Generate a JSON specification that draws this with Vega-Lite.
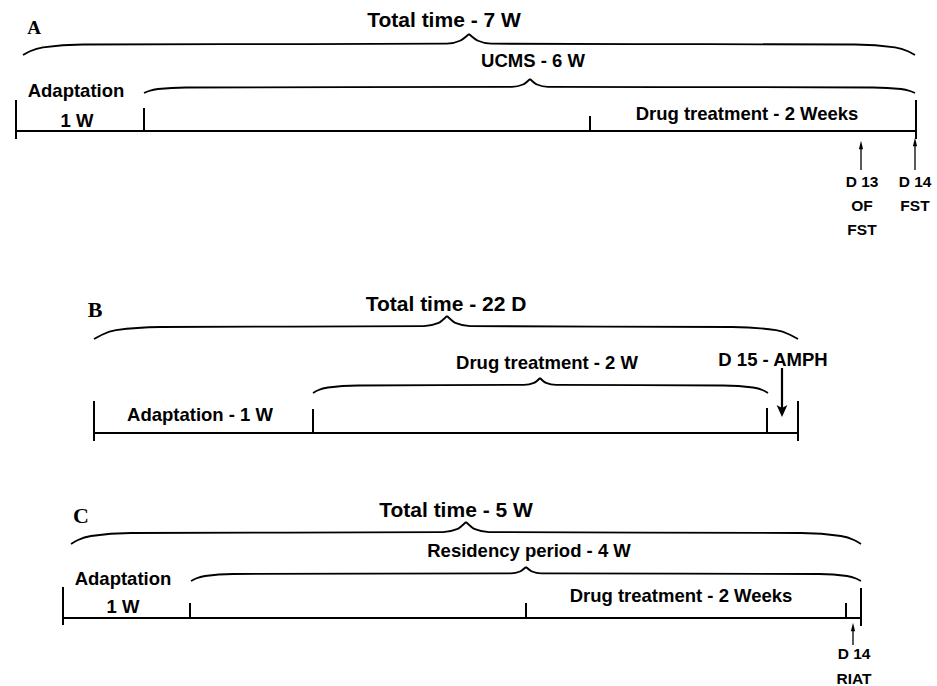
{
  "$schema": "https://vega.github.io/schema/vega-lite/v6.json",
  "width": 937,
  "height": 686,
  "autosize": "none",
  "padding": 0,
  "background": "white",
  "config": {"view": {"stroke": null}},
  "datasets": {
    "rules": [
      {"x": 16, "x2": 916, "y": 131, "y2": 131},
      {"x": 16, "x2": 16, "y": 101, "y2": 138},
      {"x": 144, "x2": 144, "y": 109, "y2": 131},
      {"x": 590, "x2": 590, "y": 117, "y2": 131},
      {"x": 916, "x2": 916, "y": 101, "y2": 138},
      {"x": 94, "x2": 798, "y": 433, "y2": 433},
      {"x": 94, "x2": 94, "y": 402, "y2": 440},
      {"x": 313, "x2": 313, "y": 410, "y2": 433},
      {"x": 767, "x2": 767, "y": 409, "y2": 433},
      {"x": 798, "x2": 798, "y": 402, "y2": 440},
      {"x": 63, "x2": 861, "y": 618, "y2": 618},
      {"x": 63, "x2": 63, "y": 588, "y2": 624},
      {"x": 190, "x2": 190, "y": 604, "y2": 618},
      {"x": 526, "x2": 526, "y": 604, "y2": 618},
      {"x": 846, "x2": 846, "y": 604, "y2": 618},
      {"x": 861, "x2": 861, "y": 589, "y2": 625}
    ],
    "braces": [
      {"seg": "A1L", "px": 23, "py": 55}, {"seg": "A1L", "px": 30, "py": 51.2}, {"seg": "A1L", "px": 43, "py": 47.3}, {"seg": "A1L", "px": 83, "py": 44.5}, {"seg": "A1L", "px": 447, "py": 43.7}, {"seg": "A1L", "px": 460, "py": 40.8}, {"seg": "A1L", "px": 469, "py": 34},
      {"seg": "A1R", "px": 469, "py": 34}, {"seg": "A1R", "px": 478, "py": 40.8}, {"seg": "A1R", "px": 491, "py": 43.7}, {"seg": "A1R", "px": 855, "py": 44.5}, {"seg": "A1R", "px": 895, "py": 47.3}, {"seg": "A1R", "px": 908, "py": 51.2}, {"seg": "A1R", "px": 915, "py": 55},
      {"seg": "A2L", "px": 144, "py": 93}, {"seg": "A2L", "px": 149, "py": 91}, {"seg": "A2L", "px": 158, "py": 89}, {"seg": "A2L", "px": 186, "py": 87.5}, {"seg": "A2L", "px": 512, "py": 86.8}, {"seg": "A2L", "px": 523, "py": 84.5}, {"seg": "A2L", "px": 530, "py": 79},
      {"seg": "A2R", "px": 530, "py": 79}, {"seg": "A2R", "px": 537, "py": 84.5}, {"seg": "A2R", "px": 548, "py": 86.8}, {"seg": "A2R", "px": 873, "py": 87.5}, {"seg": "A2R", "px": 901, "py": 89}, {"seg": "A2R", "px": 910, "py": 91}, {"seg": "A2R", "px": 915, "py": 93},
      {"seg": "B1L", "px": 94, "py": 339}, {"seg": "B1L", "px": 102, "py": 334.7}, {"seg": "B1L", "px": 116, "py": 330.2}, {"seg": "B1L", "px": 160, "py": 327}, {"seg": "B1L", "px": 424, "py": 326.1}, {"seg": "B1L", "px": 438, "py": 323.2}, {"seg": "B1L", "px": 447, "py": 316},
      {"seg": "B1R", "px": 447, "py": 316}, {"seg": "B1R", "px": 456, "py": 323.2}, {"seg": "B1R", "px": 470, "py": 326.1}, {"seg": "B1R", "px": 732, "py": 327}, {"seg": "B1R", "px": 776, "py": 330.2}, {"seg": "B1R", "px": 790, "py": 334.7}, {"seg": "B1R", "px": 798, "py": 339},
      {"seg": "B2L", "px": 313, "py": 393}, {"seg": "B2L", "px": 318, "py": 390.3}, {"seg": "B2L", "px": 328, "py": 387.5}, {"seg": "B2L", "px": 358, "py": 385.5}, {"seg": "B2L", "px": 524, "py": 384.9}, {"seg": "B2L", "px": 534, "py": 382.9}, {"seg": "B2L", "px": 540, "py": 378},
      {"seg": "B2R", "px": 540, "py": 378}, {"seg": "B2R", "px": 546, "py": 382.9}, {"seg": "B2R", "px": 556, "py": 384.9}, {"seg": "B2R", "px": 723, "py": 385.5}, {"seg": "B2R", "px": 753, "py": 387.5}, {"seg": "B2R", "px": 763, "py": 390.3}, {"seg": "B2R", "px": 768, "py": 393},
      {"seg": "C1L", "px": 71, "py": 544}, {"seg": "C1L", "px": 78, "py": 540}, {"seg": "C1L", "px": 91, "py": 536}, {"seg": "C1L", "px": 131, "py": 533}, {"seg": "C1L", "px": 443, "py": 532.1}, {"seg": "C1L", "px": 457, "py": 529.2}, {"seg": "C1L", "px": 466, "py": 522},
      {"seg": "C1R", "px": 466, "py": 522}, {"seg": "C1R", "px": 475, "py": 529.2}, {"seg": "C1R", "px": 489, "py": 532.1}, {"seg": "C1R", "px": 801, "py": 533}, {"seg": "C1R", "px": 841, "py": 536}, {"seg": "C1R", "px": 854, "py": 540}, {"seg": "C1R", "px": 861, "py": 544},
      {"seg": "C2L", "px": 191, "py": 581}, {"seg": "C2L", "px": 196, "py": 578.5}, {"seg": "C2L", "px": 205, "py": 576}, {"seg": "C2L", "px": 233, "py": 574}, {"seg": "C2L", "px": 511, "py": 573.4}, {"seg": "C2L", "px": 520, "py": 571.5}, {"seg": "C2L", "px": 526, "py": 567},
      {"seg": "C2R", "px": 526, "py": 567}, {"seg": "C2R", "px": 532, "py": 571.5}, {"seg": "C2R", "px": 541, "py": 573.4}, {"seg": "C2R", "px": 819, "py": 574}, {"seg": "C2R", "px": 847, "py": 576}, {"seg": "C2R", "px": 856, "py": 578.5}, {"seg": "C2R", "px": 861, "py": 581}
    ],
    "arrows": [
      {"kind": "thin", "x": 861, "y": 146, "y2": 170},
      {"kind": "thin", "x": 915, "y": 143, "y2": 170},
      {"kind": "thick", "x": 782, "y": 368, "y2": 410},
      {"kind": "thin", "x": 853, "y": 628, "y2": 645}
    ],
    "heads": [
      {"kind": "up", "x": 861, "y": 145},
      {"kind": "up", "x": 915, "y": 142},
      {"kind": "down", "x": 782, "y": 411},
      {"kind": "up", "x": 853, "y": 627}
    ],
    "texts": [
      {"role": "letterA", "label": "A", "tx": 34, "ty": 34},
      {"role": "letter", "label": "B", "tx": 95, "ty": 317},
      {"role": "letter", "label": "C", "tx": 81, "ty": 523},
      {"role": "total", "label": "Total time - 7 W", "tx": 444, "ty": 27},
      {"role": "total", "label": "Total time - 22 D", "tx": 446, "ty": 311},
      {"role": "total", "label": "Total time - 5 W", "tx": 456, "ty": 517},
      {"role": "medium", "label": "UCMS - 6 W", "tx": 533, "ty": 67},
      {"role": "medium", "label": "Adaptation", "tx": 76, "ty": 97},
      {"role": "medium", "label": "1 W", "tx": 77, "ty": 127},
      {"role": "medium", "label": "Drug treatment - 2 Weeks", "tx": 747, "ty": 120},
      {"role": "medium", "label": "Drug treatment - 2 W", "tx": 547, "ty": 369},
      {"role": "medium", "label": "D 15 - AMPH", "tx": 773, "ty": 366},
      {"role": "medium", "label": "Adaptation - 1 W", "tx": 200, "ty": 421},
      {"role": "medium", "label": "Residency period - 4 W", "tx": 529, "ty": 557},
      {"role": "medium", "label": "Adaptation", "tx": 123, "ty": 585},
      {"role": "medium", "label": "1 W", "tx": 123, "ty": 613},
      {"role": "medium", "label": "Drug treatment - 2 Weeks", "tx": 681, "ty": 602},
      {"role": "small", "label": "D 13", "tx": 862, "ty": 187},
      {"role": "small", "label": "OF", "tx": 862, "ty": 211},
      {"role": "small", "label": "FST", "tx": 862, "ty": 235},
      {"role": "small", "label": "D 14", "tx": 915, "ty": 187},
      {"role": "small", "label": "FST", "tx": 915, "ty": 211},
      {"role": "small", "label": "D 14", "tx": 854, "ty": 659},
      {"role": "small", "label": "RIAT", "tx": 854, "ty": 684}
    ]
  },
  "layer": [
    {
      "data": {"name": "rules"},
      "mark": {"type": "rule", "color": "black", "strokeWidth": 2, "strokeCap": "square"},
      "encoding": {
        "x": {"field": "x", "type": "quantitative", "scale": {"domain": [0, 937], "nice": false, "zero": false}, "axis": null},
        "x2": {"field": "x2"},
        "y": {"field": "y", "type": "quantitative", "scale": {"domain": [0, 686], "nice": false, "zero": false, "reverse": true}, "axis": null},
        "y2": {"field": "y2"}
      }
    },
    {
      "data": {"name": "braces"},
      "mark": {"type": "line", "color": "black", "strokeWidth": 1.8, "interpolate": "monotone"},
      "encoding": {
        "x": {"field": "px", "type": "quantitative", "scale": {"domain": [0, 937], "nice": false, "zero": false}, "axis": null},
        "y": {"field": "py", "type": "quantitative", "scale": {"domain": [0, 686], "nice": false, "zero": false, "reverse": true}, "axis": null},
        "detail": {"field": "seg", "type": "nominal"}
      }
    },
    {
      "data": {"name": "arrows"},
      "transform": [{"filter": "datum.kind === 'thin'"}],
      "mark": {"type": "rule", "color": "black", "strokeWidth": 1.3},
      "encoding": {
        "x": {"field": "x", "type": "quantitative", "axis": null},
        "y": {"field": "y", "type": "quantitative", "axis": null},
        "y2": {"field": "y2"}
      }
    },
    {
      "data": {"name": "arrows"},
      "transform": [{"filter": "datum.kind === 'thick'"}],
      "mark": {"type": "rule", "color": "black", "strokeWidth": 2.2},
      "encoding": {
        "x": {"field": "x", "type": "quantitative", "axis": null},
        "y": {"field": "y", "type": "quantitative", "axis": null},
        "y2": {"field": "y2"}
      }
    },
    {
      "data": {"name": "heads"},
      "transform": [{"filter": "datum.kind === 'up'"}],
      "mark": {"type": "point", "filled": true, "color": "black", "opacity": 1, "size": 70, "shape": "M0,-1L0.5,1L-0.5,1Z"},
      "encoding": {
        "x": {"field": "x", "type": "quantitative", "axis": null},
        "y": {"field": "y", "type": "quantitative", "axis": null}
      }
    },
    {
      "data": {"name": "heads"},
      "transform": [{"filter": "datum.kind === 'down'"}],
      "mark": {"type": "point", "filled": true, "color": "black", "opacity": 1, "size": 144, "shape": "M0,1L-0.9,-1L0,-0.5L0.9,-1Z"},
      "encoding": {
        "x": {"field": "x", "type": "quantitative", "axis": null},
        "y": {"field": "y", "type": "quantitative", "axis": null}
      }
    },
    {
      "data": {"name": "texts"},
      "transform": [{"filter": "datum.role === 'letterA'"}],
      "mark": {"type": "text", "font": "Liberation Serif", "fontWeight": "bold", "fontSize": 19, "align": "center", "baseline": "alphabetic", "color": "black"},
      "encoding": {
        "x": {"field": "tx", "type": "quantitative", "axis": null},
        "y": {"field": "ty", "type": "quantitative", "axis": null},
        "text": {"field": "label"}
      }
    },
    {
      "data": {"name": "texts"},
      "transform": [{"filter": "datum.role === 'letter'"}],
      "mark": {"type": "text", "font": "Liberation Serif", "fontWeight": "bold", "fontSize": 22, "align": "center", "baseline": "alphabetic", "color": "black"},
      "encoding": {
        "x": {"field": "tx", "type": "quantitative", "axis": null},
        "y": {"field": "ty", "type": "quantitative", "axis": null},
        "text": {"field": "label"}
      }
    },
    {
      "data": {"name": "texts"},
      "transform": [{"filter": "datum.role === 'total'"}],
      "mark": {"type": "text", "font": "Liberation Sans", "fontWeight": "bold", "fontSize": 21, "align": "center", "baseline": "alphabetic", "color": "black"},
      "encoding": {
        "x": {"field": "tx", "type": "quantitative", "axis": null},
        "y": {"field": "ty", "type": "quantitative", "axis": null},
        "text": {"field": "label"}
      }
    },
    {
      "data": {"name": "texts"},
      "transform": [{"filter": "datum.role === 'medium'"}],
      "mark": {"type": "text", "font": "Liberation Sans", "fontWeight": "bold", "fontSize": 18.5, "align": "center", "baseline": "alphabetic", "color": "black"},
      "encoding": {
        "x": {"field": "tx", "type": "quantitative", "axis": null},
        "y": {"field": "ty", "type": "quantitative", "axis": null},
        "text": {"field": "label"}
      }
    },
    {
      "data": {"name": "texts"},
      "transform": [{"filter": "datum.role === 'small'"}],
      "mark": {"type": "text", "font": "Liberation Sans", "fontWeight": "bold", "fontSize": 15.5, "align": "center", "baseline": "alphabetic", "color": "black"},
      "encoding": {
        "x": {"field": "tx", "type": "quantitative", "axis": null},
        "y": {"field": "ty", "type": "quantitative", "axis": null},
        "text": {"field": "label"}
      }
    }
  ]
}
